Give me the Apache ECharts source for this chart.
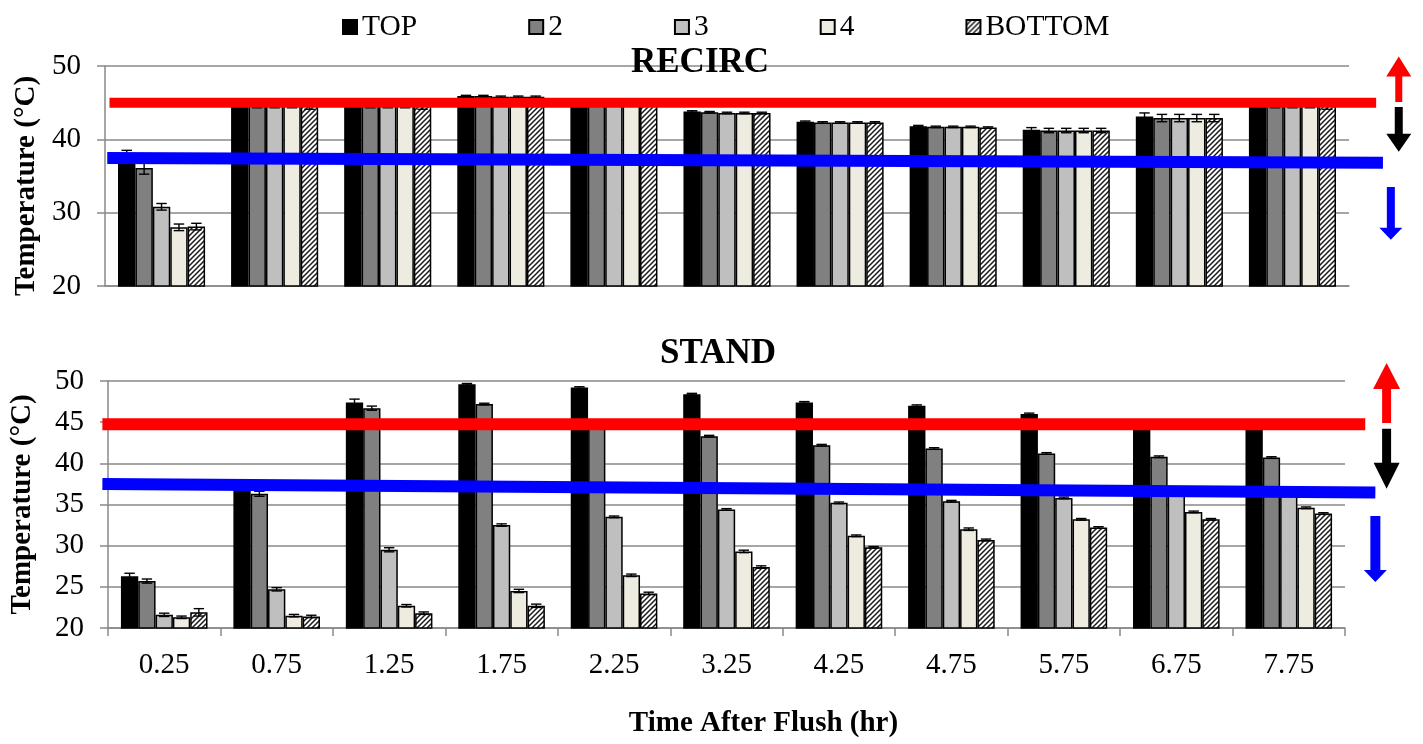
<!DOCTYPE html>
<html>
<head>
<meta charset="utf-8">
<script src="https://cdn.jsdelivr.net/npm/echarts@6/dist/echarts.min.js"></script>
<style>
  html, body { margin: 0; background: #fff; }
  #main { width: 1423px; height: 744px; }
</style>
</head>
<body>
<div id="main"></div>
<script>
// time after flush (hr)
const categories = ['0.25', '0.75', '1.25', '1.75', '2.25', '3.25', '4.25', '4.75', '5.75', '6.75', '7.75'];
const seriesNames = ['TOP', '2', '3', '4', 'BOTTOM'];

// RECIRC panel, mean temperature (°C) per level
const recircTop    = [37.8, 44.9, 44.9, 45.9, 45.2, 43.8, 42.4, 41.8, 41.3, 43.1, 44.9];
const recirc2      = [36.1, 44.8, 44.8, 45.9, 45.2, 43.7, 42.3, 41.7, 41.2, 42.9, 44.8];
const recirc3      = [30.8, 44.8, 44.8, 45.8, 45.2, 43.6, 42.3, 41.7, 41.2, 42.9, 44.8];
const recirc4      = [28.0, 44.8, 44.8, 45.8, 45.2, 43.6, 42.3, 41.7, 41.2, 42.9, 44.8];
const recircBottom = [28.1, 44.7, 44.7, 45.8, 45.1, 43.6, 42.3, 41.6, 41.2, 42.9, 44.7];
// RECIRC error (±)
const recircTopErr    = [0.7, 0.5, 0.5, 0.1, 0.2, 0.1, 0.1, 0.1, 0.3, 0.5, 0.5];
const recirc2Err      = [0.85, 0.5, 0.5, 0.1, 0.2, 0.1, 0.1, 0.1, 0.3, 0.5, 0.5];
const recirc3Err      = [0.45, 0.5, 0.5, 0.1, 0.2, 0.1, 0.1, 0.1, 0.3, 0.5, 0.5];
const recirc4Err      = [0.45, 0.5, 0.5, 0.1, 0.2, 0.1, 0.1, 0.1, 0.3, 0.5, 0.5];
const recircBottomErr = [0.45, 0.6, 0.6, 0.1, 0.2, 0.1, 0.1, 0.1, 0.3, 0.5, 0.6];

// STAND panel
const standTop    = [26.3, 37.3, 47.4, 49.6, 49.2, 48.4, 47.4, 47.0, 46.0, 45.1, 45.0];
const stand2      = [25.7, 36.3, 46.7, 47.2, 45.2, 43.3, 42.2, 41.8, 41.2, 40.8, 40.7];
const stand3      = [21.6, 24.7, 29.5, 32.5, 33.5, 34.4, 35.2, 35.4, 35.8, 36.6, 36.5];
const stand4      = [21.3, 21.5, 22.7, 24.5, 26.4, 29.3, 31.2, 32.0, 33.2, 34.1, 34.6];
const standBottom = [21.9, 21.4, 21.8, 22.7, 24.2, 27.4, 29.8, 30.7, 32.2, 33.2, 33.9];
const standTopErr    = [0.35, 0.2, 0.4, 0.1, 0.1, 0.1, 0.1, 0.1, 0.1, 0.1, 0.1];
const stand2Err      = [0.25, 0.3, 0.25, 0.1, 0.1, 0.1, 0.1, 0.1, 0.1, 0.1, 0.1];
const stand3Err      = [0.2, 0.2, 0.25, 0.15, 0.1, 0.1, 0.1, 0.1, 0.1, 0.1, 0.1];
const stand4Err      = [0.15, 0.15, 0.15, 0.2, 0.15, 0.15, 0.1, 0.15, 0.1, 0.1, 0.1];
const standBottomErr = [0.45, 0.15, 0.15, 0.2, 0.15, 0.15, 0.1, 0.1, 0.1, 0.1, 0.1];

// y axis ticks
const recircTicks = { min: 20, max: 50, interval: 10 };
const standTicks  = { min: 20, max: 50, interval: 5 };

// annotation lines, [x0, temp0, x1, temp1] (x in category units)
const recircLines = [[0.04, 45.0, 11.24, 45.0], [0.02, 37.45, 11.30, 36.8]];
const standLines  = [[-0.05, 44.75, 11.18, 44.75], [-0.05, 37.5, 11.27, 36.45]];
// arrows: [x, from temp, to temp]
const recircArrows = [[11.44, 45.1, 51.3], [11.44, 44.4, 38.3], [11.37, 33.5, 26.3]];
const standArrows  = [[11.37, 44.9, 52.2], [11.37, 44.2, 36.9], [11.27, 33.6, 25.6]];

const FONT = 'Liberation Serif';
const GRID_C = '#898989';
const fills = ['#000000', '#808080', '#bfbfbf', '#eeece1', null];
const lineColors = ['#ff0000', '#0000ff'];
const arrowColors = ['#ff0000', '#000000', '#0000ff'];
const CAT_GAP = 0.23;

function hatch() {
  const c = document.createElement('canvas');
  c.width = 5; c.height = 5;
  const g = c.getContext('2d');
  g.fillStyle = '#fff';
  g.fillRect(0, 0, 5, 5);
  g.strokeStyle = '#1a1a1a';
  g.lineWidth = 1.5;
  g.beginPath();
  g.moveTo(-1, 6); g.lineTo(6, -1);
  g.moveTo(-1, 1); g.lineTo(1, -1);
  g.moveTo(4, 6); g.lineTo(6, 4);
  g.stroke();
  return c;
}
fills[4] = { image: hatch(), repeat: 'repeat' };

function barSeries(values, k, panel) {
  return {
    name: seriesNames[k],
    type: 'bar',
    xAxisIndex: panel,
    yAxisIndex: panel,
    data: values,
    barGap: '0%',
    barCategoryGap: (CAT_GAP * 100) + '%',
    itemStyle: { color: fills[k], borderColor: '#000', borderWidth: 1.5 },
    emphasis: { disabled: true },
    z: 2
  };
}

function errData(valueArrs, errArrs) {
  const out = [];
  valueArrs.forEach((vals, k) => {
    vals.forEach((v, i) => out.push([i, k, v, errArrs[k][i]]));
  });
  return out;
}

function renderErr(params, api) {
  const ci = api.value(0), k = api.value(1), v = api.value(2), e = api.value(3);
  const band = api.size([1, 0])[0];
  const bw = band * (1 - CAT_GAP) / 5;
  const x = api.coord([ci, v])[0] + (k - 2) * bw;
  const hi = api.coord([ci, v + e])[1];
  const lo = api.coord([ci, v - e])[1];
  const cw = bw * 0.3;
  const st = { stroke: '#000', lineWidth: 1.4 };
  return {
    type: 'group',
    children: [
      { type: 'line', shape: { x1: x, y1: hi, x2: x, y2: lo }, style: st },
      { type: 'line', shape: { x1: x - cw, y1: hi, x2: x + cw, y2: hi }, style: st },
      { type: 'line', shape: { x1: x - cw, y1: lo, x2: x + cw, y2: lo }, style: st }
    ]
  };
}

function lineRenderer(widths) {
  return function (params, api) {
    const i = params.dataIndex;
    const a = api.coord([api.value(0), api.value(1)]);
    const b = api.coord([api.value(2), api.value(3)]);
    return {
      type: 'line',
      shape: { x1: a[0], y1: a[1], x2: b[0], y2: b[1] },
      style: { stroke: lineColors[i], lineWidth: widths[i], lineCap: 'butt' }
    };
  };
}

function arrowRenderer(sizes) {
  return function (params, api) {
    const idx = params.dataIndex;
    const p0 = api.coord([api.value(0), api.value(1)]);
    const p1 = api.coord([api.value(0), api.value(2)]);
    const s = sizes[idx];
    const dir = p1[1] < p0[1] ? -1 : 1;
    const x = p0[0];
    const base = p1[1] - dir * s.hh;
    return {
      type: 'polygon',
      shape: {
        points: [
          [x - s.sw / 2, p0[1]], [x - s.sw / 2, base], [x - s.hw / 2, base],
          [x, p1[1]],
          [x + s.hw / 2, base], [x + s.sw / 2, base], [x + s.sw / 2, p0[1]]
        ]
      },
      style: { fill: arrowColors[idx] }
    };
  };
}

const chart = echarts.init(document.getElementById('main'));

const recircVals = [recircTop, recirc2, recirc3, recirc4, recircBottom];
const recircErrs = [recircTopErr, recirc2Err, recirc3Err, recirc4Err, recircBottomErr];
const standVals = [standTop, stand2, stand3, stand4, standBottom];
const standErrs = [standTopErr, stand2Err, stand3Err, stand4Err, standBottomErr];

const nameStyle = { color: '#000', fontSize: 29, fontWeight: 'bold', fontFamily: FONT };
const yAxisBase = {
  type: 'value',
  axisLine: { show: true, lineStyle: { color: GRID_C, width: 1.5 } },
  axisTick: { show: true, length: 8, lineStyle: { color: GRID_C, width: 1.5 } },
  splitLine: { lineStyle: { color: GRID_C, width: 1.5 } },
  axisLabel: { color: '#000', fontSize: 29, fontFamily: FONT, margin: 24 },
  name: 'Temperature (°C)',
  nameLocation: 'middle',
  nameTextStyle: nameStyle
};

const option = {
  animation: false,
  backgroundColor: '#fff',
  title: [
    { text: 'RECIRC', left: 626, top: 40,
      textStyle: { fontFamily: FONT, fontSize: 35, fontWeight: 'bold', color: '#000' } },
    { text: 'STAND', left: 655, top: 331,
      textStyle: { fontFamily: FONT, fontSize: 35, fontWeight: 'bold', color: '#000' } }
  ],
  legend: {
    data: seriesNames,
    left: 337,
    top: 7,
    itemWidth: 14,
    itemHeight: 14,
    itemGap: 111,
    icon: 'rect',
    textStyle: { fontFamily: FONT, fontSize: 29.5, color: '#000' }
  },
  grid: [
    { left: 105, right: 74, top: 66, height: 220 },
    { left: 98, right: 78, top: 381, height: 247 }
  ],
  xAxis: [
    {
      type: 'category', gridIndex: 0, data: categories,
      axisLine: { lineStyle: { color: GRID_C, width: 1.5 } },
      axisTick: { show: false },
      axisLabel: { show: false }
    },
    {
      type: 'category', gridIndex: 1, data: categories,
      axisLine: { lineStyle: { color: GRID_C, width: 1.5 } },
      axisTick: { show: true, length: 8, lineStyle: { color: GRID_C, width: 1.5 } },
      axisLabel: { color: '#000', fontSize: 29, fontFamily: FONT, margin: 23 },
      name: 'Time After Flush (hr)',
      nameLocation: 'middle',
      nameGap: 81,
      nameTextStyle: { color: '#000', fontSize: 29, fontWeight: 'bold', fontFamily: FONT,
        padding: [0, 0, 0, 74] }
    },
    { type: 'value', gridIndex: 0, min: 0, max: 11, show: false },
    { type: 'value', gridIndex: 1, min: 0, max: 11, show: false }
  ],
  yAxis: [
    Object.assign({}, yAxisBase, { gridIndex: 0, min: recircTicks.min, max: recircTicks.max,
      interval: recircTicks.interval, nameGap: 63,
      nameTextStyle: Object.assign({}, nameStyle, { padding: [0, 20, 0, 0] }) }),
    Object.assign({}, yAxisBase, { gridIndex: 1, min: standTicks.min, max: standTicks.max,
      interval: standTicks.interval, nameGap: 71 })
  ],
  series: []
};

recircVals.forEach((v, k) => option.series.push(barSeries(v, k, 0)));
standVals.forEach((v, k) => option.series.push(barSeries(v, k, 1)));

option.series.push({
  type: 'custom', xAxisIndex: 0, yAxisIndex: 0, renderItem: renderErr,
  data: errData(recircVals, recircErrs), encode: { x: 0, y: 2 }, silent: true, z: 3
});
option.series.push({
  type: 'custom', xAxisIndex: 1, yAxisIndex: 1, renderItem: renderErr,
  data: errData(standVals, standErrs), encode: { x: 0, y: 2 }, silent: true, z: 3
});

option.series.push({
  type: 'custom', xAxisIndex: 2, yAxisIndex: 0, renderItem: lineRenderer([10, 12]),
  data: recircLines, encode: { x: [0, 2], y: [1, 3] }, clip: false, silent: true, z: 5
});
option.series.push({
  type: 'custom', xAxisIndex: 3, yAxisIndex: 1, renderItem: lineRenderer([12, 12]),
  data: standLines, encode: { x: [0, 2], y: [1, 3] }, clip: false, silent: true, z: 5
});

const recircArrowSizes = [{ sw: 7, hw: 25, hh: 20 }, { sw: 8, hw: 25, hh: 18 }, { sw: 8, hw: 23, hh: 12 }];
const standArrowSizes = [{ sw: 9, hw: 27, hh: 26 }, { sw: 9, hw: 26, hh: 26 }, { sw: 10, hw: 23, hh: 12 }];

option.series.push({
  type: 'custom', xAxisIndex: 2, yAxisIndex: 0, renderItem: arrowRenderer(recircArrowSizes),
  data: recircArrows, encode: { x: 0, y: [1, 2] }, clip: false, silent: true, z: 6
});
option.series.push({
  type: 'custom', xAxisIndex: 3, yAxisIndex: 1, renderItem: arrowRenderer(standArrowSizes),
  data: standArrows, encode: { x: 0, y: [1, 2] }, clip: false, silent: true, z: 6
});

chart.setOption(option);
</script>
</body>
</html>
